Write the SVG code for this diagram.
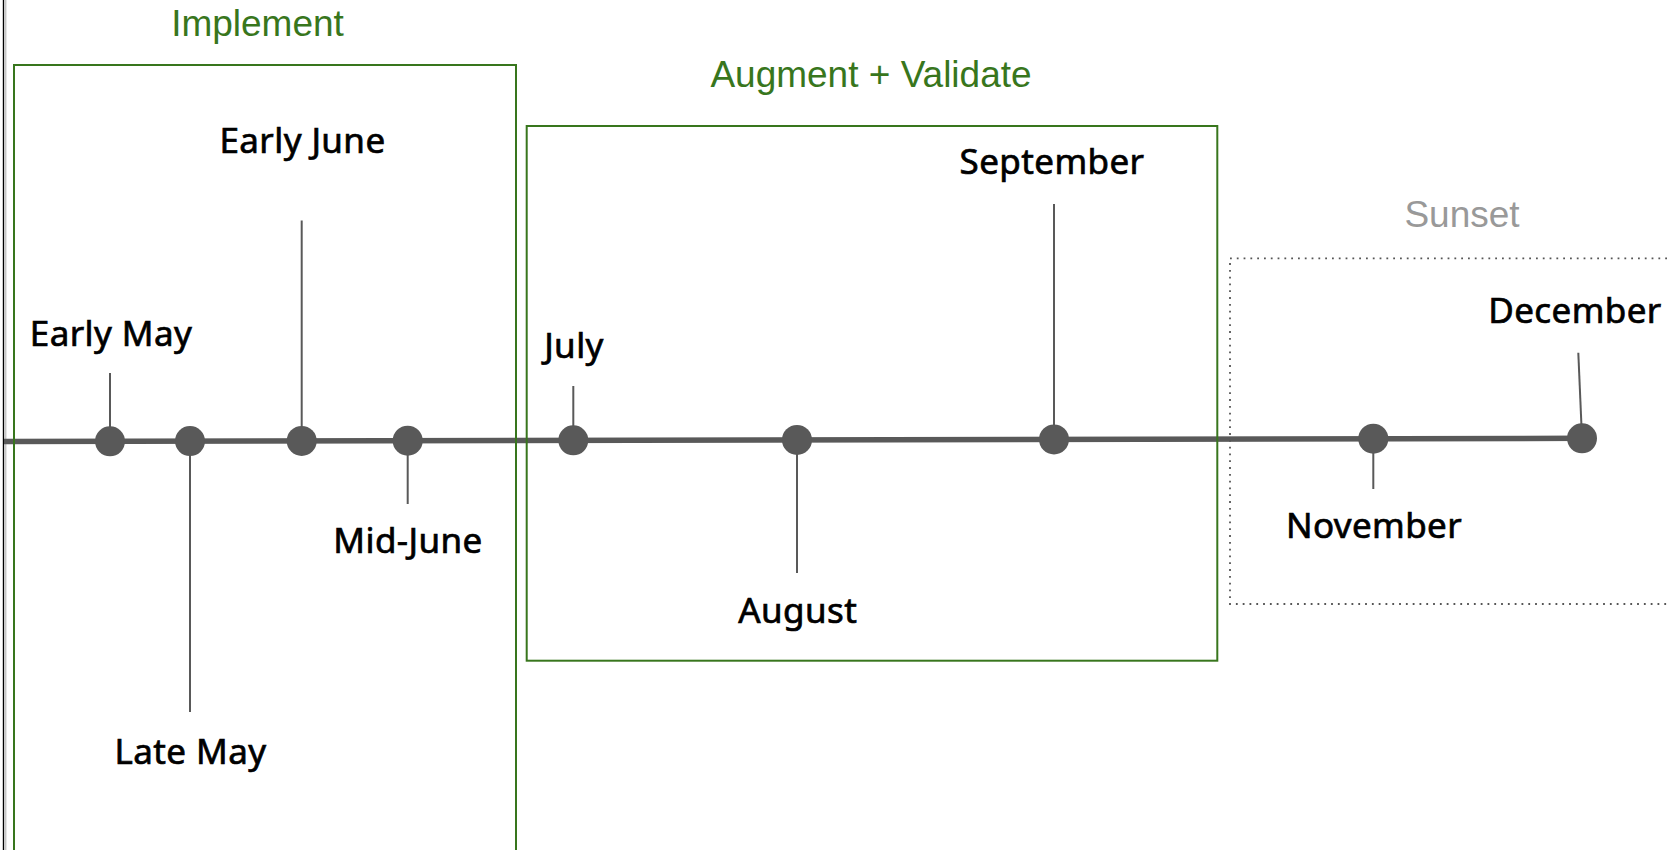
<svg xmlns="http://www.w3.org/2000/svg" width="1671" height="850" viewBox="0 0 1671 850">
<style>
  .phase { font-family: "Liberation Sans", Arial, sans-serif; font-size: 37px; text-anchor: middle; }
  .green { fill: #38761d; }
  .grey { fill: #999999; }
  .box { fill: none; stroke: #38761d; stroke-width: 2; }
  .dotted { fill: none; stroke: #555555; stroke-width: 1.8; stroke-dasharray: 1.8 5; }
  .label { font-family: "Noto Sans", "DejaVu Sans", sans-serif; font-size: 35px; font-weight: 400; fill: #000000; stroke: #000000; stroke-width: 0.7; text-anchor: middle; letter-spacing: 0.4px; }
  .stem { stroke: #595959; stroke-width: 2; fill: none; }
  .axis { stroke: #595959; stroke-width: 5.5; fill: none; stroke-linecap: butt; }
  .dot { fill: #595959; }
</style>
<rect x="0" y="0" width="1671" height="850" fill="#ffffff"/>
<line x1="3.5" y1="0" x2="3.5" y2="850" stroke="#000000" stroke-width="1.4"/>
<line x1="5.8" y1="0" x2="5.8" y2="850" stroke="#9a9a9a" stroke-width="0.8"/>

<g id="connectors">
  <line class="axis" x1="4" y1="441.5" x2="1582" y2="438.3"/>
  <line class="stem" x1="110" y1="373" x2="110" y2="441"/>
  <line class="stem" x1="190" y1="441" x2="190" y2="712"/>
  <line class="stem" x1="301.7" y1="220.5" x2="301.7" y2="441"/>
  <line class="stem" x1="407.7" y1="441" x2="407.7" y2="504"/>
  <line class="stem" x1="573.3" y1="386" x2="573.3" y2="440"/>
  <line class="stem" x1="797" y1="440" x2="797" y2="573"/>
  <line class="stem" x1="1054" y1="204" x2="1054" y2="439"/>
  <line class="stem" x1="1373.3" y1="439" x2="1373.3" y2="489"/>
  <line class="stem" x1="1578.3" y1="352.7" x2="1582" y2="438"/>
</g>

<g id="phase-implement">
  <rect class="box" x="14" y="65" width="502" height="800"/>
  <text class="phase green" x="257.5" y="36">Implement</text>
</g>
<g id="phase-augment">
  <rect class="box" x="526.7" y="126" width="690.6" height="534.7"/>
  <text class="phase green" x="871" y="87">Augment + Validate</text>
</g>
<g id="phase-sunset">
  <rect class="dotted" x="1230" y="258.3" width="460" height="345.7"/>
  <text class="phase grey" x="1462" y="227">Sunset</text>
</g>

<g id="early-may">
  <circle class="dot" cx="110" cy="441.3" r="15"/>
  <text class="label" x="111" y="346">Early May</text>
</g>
<g id="late-may">
  <circle class="dot" cx="190" cy="441.1" r="15"/>
  <text class="label" x="190.5" y="764">Late May</text>
</g>
<g id="early-june">
  <circle class="dot" cx="301.7" cy="440.9" r="15"/>
  <text class="label" x="302.5" y="153">Early June</text>
</g>
<g id="mid-june">
  <circle class="dot" cx="407.7" cy="440.7" r="15"/>
  <text class="label" x="408" y="553">Mid-June</text>
</g>
<g id="july">
  <circle class="dot" cx="573.3" cy="440.3" r="15"/>
  <text class="label" x="574" y="358">July</text>
</g>
<g id="august">
  <circle class="dot" cx="797" cy="439.9" r="15"/>
  <text class="label" x="797.7" y="623">August</text>
</g>
<g id="september">
  <circle class="dot" cx="1054" cy="439.4" r="15"/>
  <text class="label" x="1052" y="174">September</text>
</g>
<g id="november">
  <circle class="dot" cx="1373.3" cy="438.7" r="15"/>
  <text class="label" x="1374" y="538">November</text>
</g>
<g id="december">
  <circle class="dot" cx="1582" cy="438.3" r="15"/>
  <text class="label" x="1575" y="323">December</text>
</g>
</svg>
